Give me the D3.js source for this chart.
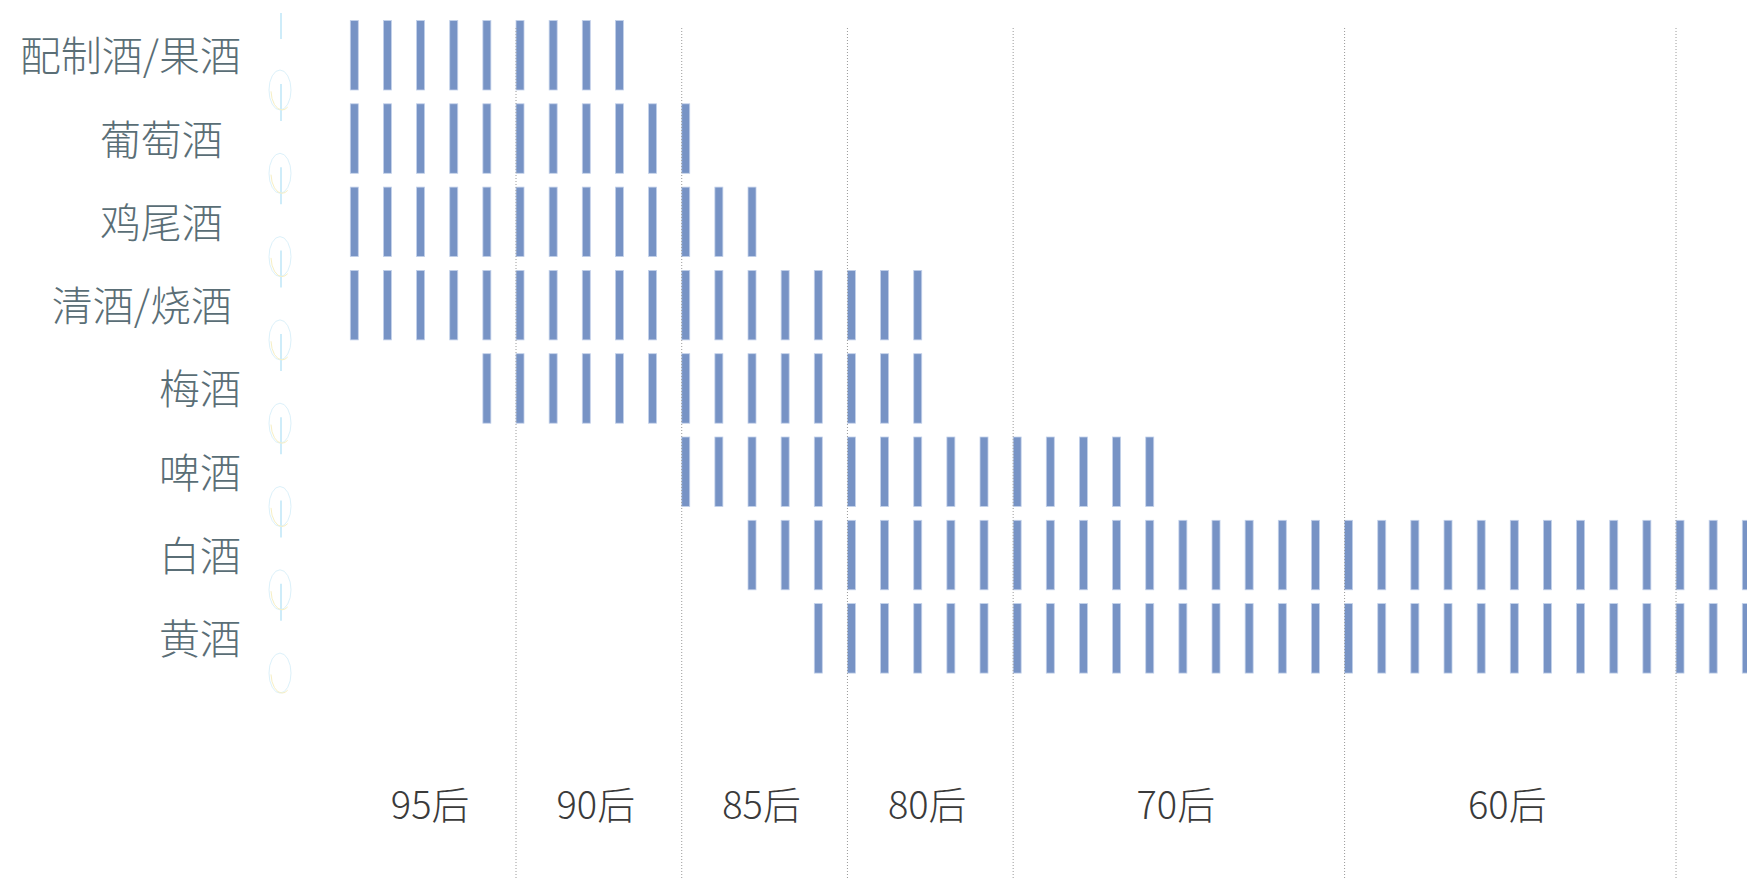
<!DOCTYPE html>
<html>
<head>
<meta charset="utf-8">
<script src="https://cdn.jsdelivr.net/npm/d3@7"></script>
<style>
  html, body { margin: 0; padding: 0; background: #ffffff; }
  svg { display: block; }
  text { font-family: "Noto Sans CJK SC", "Noto Sans", sans-serif; white-space: pre; }
</style>
</head>
<body>
<svg id="chart" width="1747" height="878"></svg>
<script>
// Drink categories, one row each, and the span of birth years in which each appears
const categories = ["配制酒/果酒", "葡萄酒  ", "鸡尾酒  ", "清酒/烧酒 ", "梅酒", "啤酒", "白酒", "黄酒"];
const fromYear   = [1999, 1999, 1999, 1999, 1995, 1989, 1987, 1985];
const toYear     = [1991, 1989, 1987, 1982, 1982, 1975, 1950, 1950];

// Generation groups along the horizontal axis
const generations = ["95后", "90后", "85后", "80后", "70后", "60后"];
const genStart    = [1999, 1994, 1989, 1984, 1979, 1969];
const genEnd      = [1995, 1990, 1985, 1980, 1970, 1960];

const svg = d3.select("#chart");
const W = 1747, H = 878;

// One band per birth year, youngest on the left
const years = d3.range(1999, 1949, -1);
const step = 33.143;
const x = d3.scaleBand()
  .domain(years)
  .range([350.3, 350.3 + years.length * step])
  .padding(0);

const y = d3.scaleBand()
  .domain(categories)
  .range([20.5, 673.1])
  .paddingInner(0.1657)
  .paddingOuter(0);

const barW = 8;

// Year ticks for every row
const ticks = [];
categories.forEach((c, i) => {
  years.filter(yr => yr <= fromYear[i] && yr >= toYear[i])
       .forEach(yr => ticks.push({ cat: c, year: yr }));
});

svg.append("g")
  .selectAll("rect")
  .data(ticks)
  .join("rect")
  .attr("x", d => x(d.year))
  .attr("y", d => y(d.cat))
  .attr("width", barW)
  .attr("height", y.bandwidth())
  .attr("fill", "#7793c5")
  .attr("stroke", "#c3d1ea")
  .attr("stroke-width", 0.8);

// Dotted separators between generations (and after the last one)
const sep = genStart.slice(1).map(g => x(g))
  .concat([x(genEnd[genEnd.length - 1]) + x.bandwidth()]);
svg.append("g")
  .selectAll("line")
  .data(sep)
  .join("line")
  .attr("x1", d => d)
  .attr("x2", d => d)
  .attr("y1", 28)
  .attr("y2", H)
  .attr("stroke", "#9a9a9a")
  .attr("stroke-width", 1)
  .attr("stroke-dasharray", "1,2");

// Generation labels, centred in their spans
svg.append("g")
  .selectAll("text")
  .data(generations)
  .join("text")
  .attr("x", (d, i) => (x(genStart[i]) + x(genEnd[i]) + x.bandwidth()) / 2 - 3)
  .attr("y", 802)
  .attr("text-anchor", "middle")
  .attr("dominant-baseline", "central")
  .attr("font-size", 38)
  .attr("font-weight", 300)
  .attr("fill", "#3a3a3a")
  .text(d => d);

// Category labels
svg.append("g")
  .selectAll("text")
  .data(categories)
  .join("text")
  .attr("x", 241)
  .attr("y", d => y(d) + y.bandwidth() / 2 - 2)
  .attr("text-anchor", "end")
  .attr("dominant-baseline", "central")
  .attr("font-size", 41)
  .attr("font-weight", 300)
  .attr("fill", "#5a6e76")
  .text(d => d);

// Faint vertical axis with link marks between rows
const axisX = 281;
const axis = svg.append("g");
const joints = categories.map(c => y(c) + y.bandwidth());
const segStarts = [13].concat(joints.slice(0, -1).map(v => v - 6));
axis.selectAll("line")
  .data(segStarts)
  .join("line")
  .attr("x1", axisX).attr("x2", axisX)
  .attr("y1", d => d)
  .attr("y2", (d, i) => i === 0 ? 39 : d + 37)
  .attr("stroke", "#aee0f5")
  .attr("stroke-width", 1.2);

axis.selectAll("ellipse.c")
  .data(joints)
  .join("ellipse")
  .attr("class", "c")
  .attr("cx", axisX - 1)
  .attr("cy", d => d)
  .attr("rx", 11)
  .attr("ry", 20)
  .attr("fill", "none")
  .attr("stroke", "#dcf1fa")
  .attr("stroke-width", 1);

axis.selectAll("ellipse.w")
  .data(joints)
  .join("ellipse")
  .attr("class", "w")
  .attr("cx", axisX + 1)
  .attr("cy", d => d)
  .attr("rx", 11)
  .attr("ry", 20)
  .attr("fill", "none")
  .attr("stroke", "#f6efc4")
  .attr("stroke-width", 1)
  .attr("stroke-dasharray", "0,18,30,200");
</script>
</body>
</html>
